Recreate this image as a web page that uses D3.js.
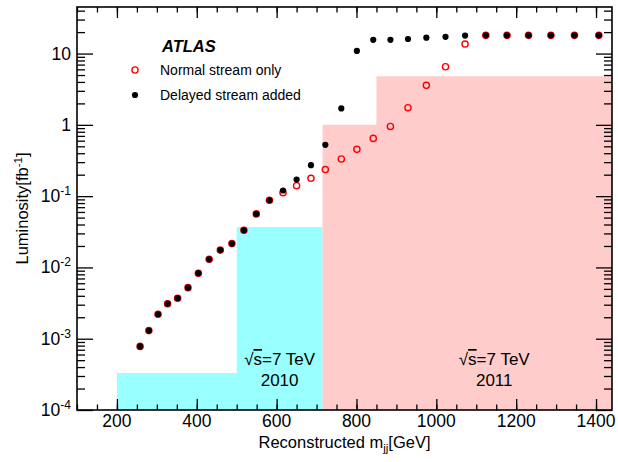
<!DOCTYPE html>
<html>
<head>
<meta charset="utf-8">
<script src="https://cdn.jsdelivr.net/npm/d3@7"></script>
<style>
  body { margin: 0; background: #fff; }
  text { font-family: "Liberation Sans", Arial, sans-serif; fill: #000; }
</style>
</head>
<body>
<div id="chart"></div>
<script>
// dijet mass points (GeV) and integrated luminosity (fb^-1)
var massPoints = [258, 280, 303, 327, 352, 378, 404, 431, 459, 488, 518,
  549, 582, 616, 650, 686, 722, 762, 801, 842, 885, 929, 975, 1023, 1072,
  1124, 1177, 1231, 1287, 1346, 1407];
var normalLumi = [0.00078, 0.0013, 0.0022, 0.0031, 0.0037, 0.0052, 0.0083, 0.013, 0.0175, 0.0216, 0.0332,
  0.0563, 0.0875, 0.112, 0.14, 0.178, 0.236, 0.332, 0.453, 0.646, 0.95, 1.74, 3.58, 6.53, 13.6,
  18, 18, 18, 18, 18, 18];
var delayedLumi = [0.00078, 0.0013, 0.0022, 0.0031, 0.0037, 0.0052, 0.0083, 0.013, 0.0175, 0.0216, 0.0332,
  0.0563, 0.0875, 0.12, 0.171, 0.272, 0.524, 1.70, 10.9, 15.6, 15.6, 16.0, 16.7, 17.2, 17.9,
  18, 18, 18, 18, 18, 18];

// data-taking periods: step edges and luminosity of each step
var edges2010 = [200, 500, 715];
var lumi2010 = [0.00033, 0.037];
var edges2011 = [715, 850, 1440];
var lumi2011 = [1.0, 4.8];

var xTicks = [200, 400, 600, 800, 1000, 1200, 1400];
var yTicks = [1e-4, 1e-3, 1e-2, 1e-1, 1, 10];
var yTickLabels = [["10", "-4"], ["10", "-3"], ["10", "-2"], ["10", "-1"], ["1", ""], ["10", ""]];

var svgWidth = 618;
var svgHeight = 462;
var frame = { left: 77, right: 612, top: 7, bottom: 410 };

var svg = d3.select("#chart")
  .append("svg")
  .attr("width", svgWidth)
  .attr("height", svgHeight);

var x = d3.scaleLinear()
  .domain([100, 1440])
  .range([frame.left, frame.right]);

var y = d3.scaleLog()
  .domain([1e-4, 45])
  .range([frame.bottom, frame.top]);

// shaded periods, one step polygon each
function drawSteps(edges, values, color) {
  var pts = edges.map(function(e, i) { return { m: e, v: values[Math.min(i, values.length - 1)] }; });
  var area = d3.area()
    .curve(d3.curveStepAfter)
    .x(d => x(d.m))
    .y0(y(1e-4))
    .y1(d => y(d.v));
  svg.append("path")
    .datum(pts)
    .attr("d", area)
    .attr("fill", color);
}
drawSteps(edges2010, lumi2010, "#99ffff");
drawSteps(edges2011, lumi2011, "#ffcccc");

// period labels
function periodLabel(cx, year) {
  var t = svg.append("text")
    .attr("x", cx)
    .attr("y", 365)
    .attr("text-anchor", "middle")
    .style("font-size", "17px");
  t.append("tspan").text("\u221A");
  t.append("tspan").style("text-decoration", "overline").text("s");
  t.append("tspan").text("=7 TeV");
  svg.append("text")
    .attr("x", cx)
    .attr("y", 386)
    .attr("text-anchor", "middle")
    .style("font-size", "17px")
    .text(year);
}
periodLabel((x(edges2010[1]) + x(edges2010[2])) / 2, "2010");
periodLabel((x(edges2011[1]) + x(edges2011[2])) / 2, "2011");

// axes with ROOT style inner ticks
var majorX = d3.axisBottom(x).tickValues(xTicks).tickSizeInner(-11).tickSizeOuter(0).tickFormat("");
var minorX = d3.axisBottom(x).tickValues(d3.range(100, 1441, 50)).tickSizeInner(-5.5).tickSizeOuter(0).tickFormat("");
var majorXTop = d3.axisTop(x).tickValues(xTicks).tickSizeInner(-11).tickSizeOuter(0).tickFormat("");
var minorXTop = d3.axisTop(x).tickValues(d3.range(100, 1441, 50)).tickSizeInner(-5.5).tickSizeOuter(0).tickFormat("");

var minorYVals = [];
[1e-4, 1e-3, 1e-2, 1e-1, 1, 10].forEach(function(dec) {
  for (var k = 2; k <= 9; k++) {
    if (dec * k <= 45) minorYVals.push(dec * k);
  }
});
var majorY = d3.axisLeft(y).tickValues(yTicks).tickSizeInner(-16).tickSizeOuter(0).tickFormat("");
var minorY = d3.axisLeft(y).tickValues(minorYVals).tickSizeInner(-8).tickSizeOuter(0).tickFormat("");
var majorYR = d3.axisRight(y).tickValues(yTicks).tickSizeInner(-16).tickSizeOuter(0).tickFormat("");
var minorYR = d3.axisRight(y).tickValues(minorYVals).tickSizeInner(-8).tickSizeOuter(0).tickFormat("");

var axG = svg.append("g").attr("class", "axes");
axG.append("g").attr("transform", `translate(0, ${frame.bottom})`).call(majorX);
axG.append("g").attr("transform", `translate(0, ${frame.bottom})`).call(minorX);
axG.append("g").attr("transform", `translate(0, ${frame.top})`).call(majorXTop);
axG.append("g").attr("transform", `translate(0, ${frame.top})`).call(minorXTop);
axG.append("g").attr("transform", `translate(${frame.left}, 0)`).call(majorY);
axG.append("g").attr("transform", `translate(${frame.left}, 0)`).call(minorY);
axG.append("g").attr("transform", `translate(${frame.right}, 0)`).call(majorYR);
axG.append("g").attr("transform", `translate(${frame.right}, 0)`).call(minorYR);
axG.selectAll(".domain").remove();
axG.selectAll("line").attr("stroke", "#000").attr("stroke-width", 1.3);

svg.append("rect")
  .attr("x", frame.left)
  .attr("y", frame.top)
  .attr("width", frame.right - frame.left)
  .attr("height", frame.bottom - frame.top)
  .attr("fill", "none")
  .attr("stroke", "#000")
  .attr("stroke-width", 1.6);

// tick labels
svg.append("g").selectAll("text")
  .data(xTicks)
  .enter()
  .append("text")
  .attr("x", d => x(d))
  .attr("y", 427)
  .attr("text-anchor", "middle")
  .style("font-size", "17.5px")
  .text(d => d);

var yLab = svg.append("g").selectAll("text")
  .data(yTicks)
  .enter()
  .append("text")
  .attr("x", 71)
  .attr("y", d => y(d) + 6)
  .attr("text-anchor", "end")
  .style("font-size", "17.5px");
yLab.append("tspan").text((d, i) => yTickLabels[i][0]);
yLab.append("tspan")
  .attr("dy", -7)
  .style("font-size", "12px")
  .text((d, i) => yTickLabels[i][1]);

// axis titles
var xTitle = svg.append("text")
  .attr("x", (frame.left + frame.right) / 2)
  .attr("y", 448)
  .attr("text-anchor", "middle")
  .style("font-size", "16.5px");
xTitle.append("tspan").text("Reconstructed m");
xTitle.append("tspan").attr("dy", 4).style("font-size", "11.5px").text("jj");
xTitle.append("tspan").attr("dy", -4).text("[GeV]");

var yTitle = svg.append("text")
  .attr("transform", `translate(28, ${(frame.top + frame.bottom) / 2}) rotate(-90)`)
  .attr("text-anchor", "middle")
  .style("font-size", "16.5px");
yTitle.append("tspan").text("Luminosity[fb");
yTitle.append("tspan").attr("dy", -6).style("font-size", "11.5px").text("-1");
yTitle.append("tspan").attr("dy", 6).text("]");

// markers: open red circles under the black dots
svg.append("g").selectAll("circle")
  .data(massPoints)
  .enter()
  .append("circle")
  .attr("cx", d => x(d))
  .attr("cy", (d, i) => y(normalLumi[i]))
  .attr("r", 3.1)
  .attr("fill", "none")
  .attr("stroke", "#ff0000")
  .attr("stroke-width", 1.4);

svg.append("g").selectAll("circle")
  .data(massPoints)
  .enter()
  .append("circle")
  .attr("cx", d => x(d))
  .attr("cy", (d, i) => y(delayedLumi[i]))
  .attr("r", 3.1)
  .attr("fill", "#000");

// legend
svg.append("text")
  .attr("x", 162)
  .attr("y", 52)
  .style("font-size", "16.5px")
  .style("font-weight", "bold")
  .style("font-style", "italic")
  .text("ATLAS");

svg.append("circle")
  .attr("cx", 135)
  .attr("cy", 70)
  .attr("r", 3.1)
  .attr("fill", "none")
  .attr("stroke", "#ff0000")
  .attr("stroke-width", 1.4);
svg.append("text")
  .attr("x", 160)
  .attr("y", 75)
  .style("font-size", "14px")
  .text("Normal stream only");

svg.append("circle")
  .attr("cx", 135)
  .attr("cy", 95)
  .attr("r", 3.1)
  .attr("fill", "#000");
svg.append("text")
  .attr("x", 160)
  .attr("y", 100)
  .style("font-size", "14px")
  .text("Delayed stream added");
</script>
</body>
</html>
